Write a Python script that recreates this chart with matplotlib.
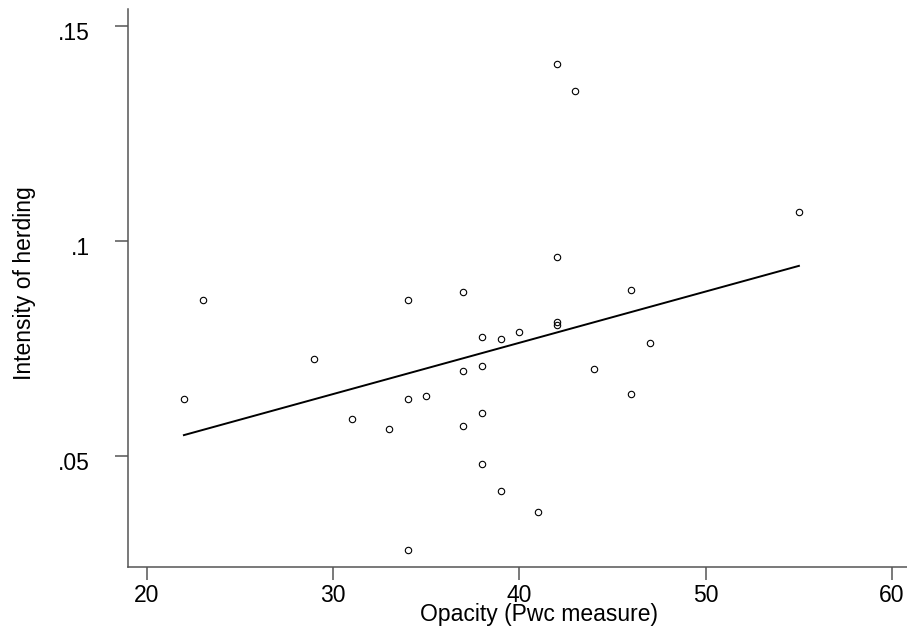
import numpy as np
import matplotlib.pyplot as plt
import matplotlib.transforms as mtransforms

# opacity (Pwc measure) and intensity of herding
opacity = [22, 23, 29, 31, 33, 34, 34, 34, 35, 37,
           37, 37, 38, 38, 38, 38, 39, 39, 40, 41,
           42, 42, 42, 42, 43, 44, 46, 46, 47, 55]
herding = [0.0633, 0.0863, 0.0726, 0.0587, 0.0564, 0.0864, 0.0633, 0.0282, 0.0639, 0.0881,
           0.0698, 0.0570, 0.0777, 0.0709, 0.0601, 0.0481, 0.0772, 0.0418, 0.0788, 0.0370,
           0.1413, 0.0963, 0.0811, 0.0806, 0.1350, 0.0702, 0.0887, 0.0644, 0.0762, 0.1068]

x_ticks = [20, 30, 40, 50, 60]
y_ticks = [0.05, 0.10, 0.15]
y_ticklabels = [".05", ".1", ".15"]

plt.rcParams['font.family'] = ['Liberation Sans', 'DejaVu Sans']

x = np.array(opacity)
y = np.array(herding)

# linear fit, drawn over the data range
b, a = np.polyfit(x, y, 1)
xs = np.array([x.min(), x.max()])

fig = plt.figure(figsize=(9.07, 6.32), dpi=100)
ax = fig.add_axes([128 / 907, 1 - 567 / 632, 1 - 128 / 907, (567 - 9) / 632])

ax.plot(xs, a + b * xs, color='black', linewidth=1.4)
ax.plot(x, y, 'o', markerfacecolor='none', markeredgecolor='black',
        markersize=4.6, markeredgewidth=0.8)

ax.set_xlim(19.0, 60.8)
ax.set_ylim(0.0242, 0.154)

ax.set_xticks(x_ticks)
ax.set_yticks(y_ticks)
ax.set_yticklabels(y_ticklabels)

for s in ['top', 'right']:
    ax.spines[s].set_visible(False)
for s in ['left', 'bottom']:
    ax.spines[s].set_color('#555555')
    ax.spines[s].set_linewidth(1.1)

ax.tick_params(axis='both', direction='out', length=9.2, width=1.1,
               color='#555555', labelsize=16.5, labelcolor='black')
ax.tick_params(axis='x', pad=3)
ax.tick_params(axis='y', pad=18)

# Stata puts the y labels a little below the tick
shift = mtransforms.ScaledTranslation(0, -5 / 100, fig.dpi_scale_trans)
for lab in ax.get_yticklabels():
    lab.set_transform(lab.get_transform() + shift)

ax.set_xlabel("Opacity (Pwc measure)", fontsize=16.5, va='center')
ax.xaxis.set_label_coords(0.527, -0.086)
ax.set_ylabel("Intensity of herding", fontsize=16.5, va='center')
ax.yaxis.set_label_coords(-0.1335, 0.508)

fig.savefig("out.png", dpi=100)
